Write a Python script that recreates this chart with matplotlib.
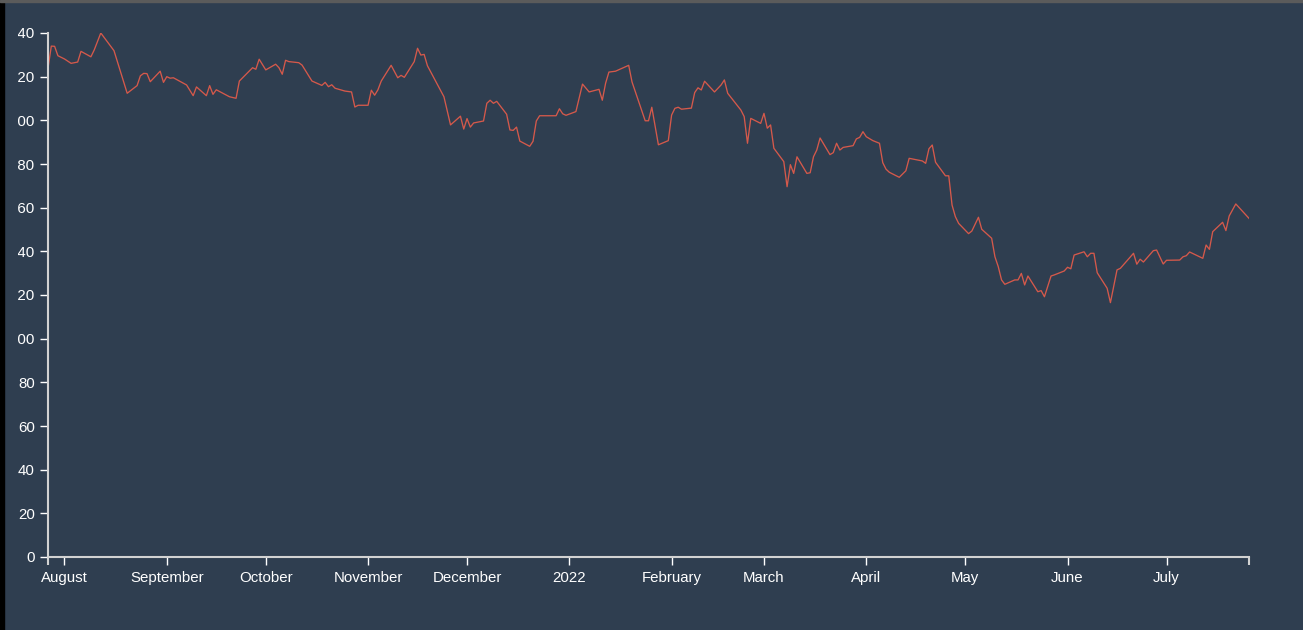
import matplotlib
matplotlib.use('Agg')
import matplotlib.pyplot as plt
import matplotlib.dates as mdates
from matplotlib.patches import Rectangle
from matplotlib.transforms import Bbox
import pandas as pd

# price series (date, close)
dates = [
    '2021-07-27', '2021-07-28', '2021-07-29', '2021-07-30', '2021-08-01', '2021-08-03',
    '2021-08-05', '2021-08-06', '2021-08-09', '2021-08-10', '2021-08-12', '2021-08-16',
    '2021-08-20', '2021-08-23', '2021-08-24', '2021-08-25', '2021-08-26', '2021-08-27',
    '2021-08-30', '2021-08-31', '2021-09-01', '2021-09-02', '2021-09-03', '2021-09-07',
    '2021-09-09', '2021-09-10', '2021-09-13', '2021-09-14', '2021-09-15', '2021-09-16',
    '2021-09-20', '2021-09-22', '2021-09-23', '2021-09-27', '2021-09-28', '2021-09-29',
    '2021-10-01', '2021-10-04', '2021-10-05', '2021-10-06', '2021-10-07', '2021-10-08',
    '2021-10-11', '2021-10-12', '2021-10-15', '2021-10-18', '2021-10-19', '2021-10-20',
    '2021-10-21', '2021-10-22', '2021-10-25', '2021-10-27', '2021-10-28', '2021-10-29',
    '2021-11-01', '2021-11-02', '2021-11-03', '2021-11-04', '2021-11-05', '2021-11-08',
    '2021-11-10', '2021-11-11', '2021-11-12', '2021-11-15', '2021-11-16', '2021-11-17',
    '2021-11-18', '2021-11-19', '2021-11-24', '2021-11-26', '2021-11-29', '2021-11-30',
    '2021-12-01', '2021-12-02', '2021-12-03', '2021-12-06', '2021-12-07', '2021-12-08',
    '2021-12-09', '2021-12-10', '2021-12-13', '2021-12-14', '2021-12-15', '2021-12-16',
    '2021-12-17', '2021-12-20', '2021-12-21', '2021-12-22', '2021-12-23', '2021-12-24',
    '2021-12-28', '2021-12-29', '2021-12-30', '2021-12-31', '2022-01-03', '2022-01-05',
    '2022-01-07', '2022-01-10', '2022-01-11', '2022-01-12', '2022-01-13', '2022-01-15',
    '2022-01-19', '2022-01-20', '2022-01-24', '2022-01-25', '2022-01-26', '2022-01-28',
    '2022-01-31', '2022-02-01', '2022-02-02', '2022-02-03', '2022-02-04', '2022-02-07',
    '2022-02-08', '2022-02-09', '2022-02-10', '2022-02-11', '2022-02-14', '2022-02-16',
    '2022-02-17', '2022-02-18', '2022-02-22', '2022-02-23', '2022-02-24', '2022-02-25',
    '2022-02-28', '2022-03-01', '2022-03-02', '2022-03-03', '2022-03-04', '2022-03-07',
    '2022-03-08', '2022-03-09', '2022-03-10', '2022-03-11', '2022-03-14', '2022-03-15',
    '2022-03-16', '2022-03-17', '2022-03-18', '2022-03-21', '2022-03-22', '2022-03-23',
    '2022-03-24', '2022-03-25', '2022-03-28', '2022-03-29', '2022-03-30', '2022-03-31',
    '2022-04-01', '2022-04-03', '2022-04-05', '2022-04-06', '2022-04-07', '2022-04-08',
    '2022-04-11', '2022-04-13', '2022-04-14', '2022-04-18', '2022-04-19', '2022-04-20',
    '2022-04-21', '2022-04-22', '2022-04-25', '2022-04-26', '2022-04-27', '2022-04-28',
    '2022-04-29', '2022-05-02', '2022-05-03', '2022-05-05', '2022-05-06', '2022-05-09',
    '2022-05-10', '2022-05-11', '2022-05-12', '2022-05-13', '2022-05-16', '2022-05-17',
    '2022-05-18', '2022-05-19', '2022-05-20', '2022-05-23', '2022-05-24', '2022-05-25',
    '2022-05-27', '2022-05-28', '2022-05-31', '2022-06-01', '2022-06-02', '2022-06-03',
    '2022-06-06', '2022-06-07', '2022-06-08', '2022-06-09', '2022-06-10', '2022-06-13',
    '2022-06-14', '2022-06-16', '2022-06-17', '2022-06-21', '2022-06-22', '2022-06-23',
    '2022-06-24', '2022-06-27', '2022-06-28', '2022-06-30', '2022-07-01', '2022-07-05',
    '2022-07-06', '2022-07-07', '2022-07-08', '2022-07-12', '2022-07-13', '2022-07-14',
    '2022-07-15', '2022-07-18', '2022-07-19', '2022-07-20', '2022-07-22', '2022-07-26',
]
prices = [
    223.8, 234.0, 233.9, 229.6, 228.1, 226.1,
    226.7, 231.6, 229.1, 232.2, 240.0, 231.9,
    212.4, 215.9, 220.4, 221.5, 221.4, 217.7,
    222.5, 217.4, 220.0, 219.3, 219.5, 216.2,
    211.3, 215.3, 211.3, 215.9, 211.9, 214.0,
    210.8, 210.1, 218.0, 224.1, 223.4, 228.0,
    223.1, 225.7, 224.1, 221.1, 227.5, 226.9,
    226.4, 225.3, 218.0, 216.0, 217.4, 215.4,
    216.3, 214.7, 213.4, 213.0, 206.1, 206.9,
    206.9, 213.8, 211.5, 214.0, 218.0, 225.2,
    219.5, 220.6, 219.7, 226.9, 233.0, 229.9,
    230.2, 225.0, 210.8, 197.9, 201.9, 196.0,
    200.8, 196.9, 198.8, 199.7, 207.8, 209.2,
    207.8, 208.7, 202.8, 195.6, 195.4, 196.9,
    190.5, 188.1, 190.4, 199.7, 202.1, 202.1,
    202.1, 205.3, 203.0, 202.3, 204.0, 216.6,
    213.0, 214.2, 209.2, 217.0, 222.1, 222.5,
    225.2, 217.6, 199.8, 199.8, 206.0, 188.8,
    190.7, 202.4, 205.5, 206.0, 205.1, 205.6,
    212.7, 214.9, 213.9, 217.9, 213.0, 216.2,
    218.5, 212.4, 204.7, 201.7, 189.5, 200.9,
    198.6, 203.2, 196.4, 197.9, 187.2, 181.1,
    169.6, 179.7, 175.7, 183.3, 175.7, 176.0,
    183.3, 186.4, 191.9, 184.3, 185.2, 189.5,
    186.4, 187.6, 188.4, 191.5, 192.2, 194.8,
    192.5, 190.7, 189.5, 180.6, 177.6, 176.2,
    173.9, 176.9, 182.6, 181.4, 180.3, 187.0,
    188.7, 180.8, 174.6, 174.6, 161.2, 155.9,
    152.8, 148.1, 149.3, 155.6, 150.1, 146.0,
    137.5, 133.0, 126.9, 124.9, 126.9, 126.9,
    129.9, 124.6, 128.7, 121.5, 122.0, 119.2,
    128.7, 129.2, 131.0, 132.7, 132.0, 138.3,
    139.8, 137.5, 139.1, 139.1, 130.2, 123.1,
    116.5, 131.5, 132.2, 139.1, 134.1, 136.4,
    135.1, 140.3, 140.6, 134.2, 135.9, 136.0,
    137.5, 138.0, 139.7, 136.8, 142.9, 140.9,
    149.0, 153.3, 149.5, 156.2, 161.7, 155.1,
]
y_ticks = list(range(0, 241, 20))

bg = '#2f3e50'
line_color = '#d5594b'
axis_color = '#d2d2d2'

plt.rcParams['font.family'] = ['Liberation Sans', 'DejaVu Sans']

df = pd.DataFrame({'date': pd.to_datetime(dates), 'close': prices})

fig = plt.figure(figsize=(13.03, 6.30), dpi=100, facecolor=bg)
ax = fig.add_axes([48 / 1303, 73 / 630, 1201 / 1303, 524 / 630])
ax.set_facecolor(bg)

ax.plot(df['date'], df['close'], color=line_color, linewidth=0.95)

ax.set_xlim(df['date'].iloc[0], df['date'].iloc[-1])
ax.set_ylim(0, 240)

# spines like a d3 axis
for side in ['top', 'right']:
    ax.spines[side].set_visible(False)
for side in ['left', 'bottom']:
    ax.spines[side].set_color(axis_color)
    ax.spines[side].set_linewidth(1.5)

ax.set_yticks(y_ticks)
ax.xaxis.set_major_locator(mdates.MonthLocator())
ax.xaxis.set_major_formatter(
    plt.FuncFormatter(lambda v, pos: mdates.num2date(v).strftime('%Y')
                      if mdates.num2date(v).month == 1
                      else mdates.num2date(v).strftime('%B'))
)
# outer ticks at both ends of the x domain
ax.set_xticks([mdates.date2num(df['date'].iloc[0]), mdates.date2num(df['date'].iloc[-1])], minor=True)

ax.tick_params(axis='both', which='major', colors='white', labelcolor='white',
               labelsize=10.8, length=6, width=1.0)
ax.tick_params(axis='y', which='major', pad=3.5)
ax.tick_params(axis='x', which='major', pad=4)
ax.tick_params(axis='x', which='minor', colors=axis_color, length=6, width=1.5)

# page chrome: dark strip at left, grey bar at top
fig.patches.append(Rectangle((0, 0), 4 / 1303, 1, transform=fig.transFigure,
                             color='black', zorder=0))
fig.patches.append(Rectangle((0, 1 - 2 / 630), 1, 2 / 630, transform=fig.transFigure,
                             color='#5b5b5b', zorder=0))

# the hundreds digit of the y labels is cut off by the container:
# clip where a two digit label begins
fig.canvas.draw()
renderer = fig.canvas.get_renderer()
ticks = ax.yaxis.get_major_ticks()
two_digit = ticks[1].label1.get_window_extent(renderer)   # the "20" label
clip = Bbox.from_extents(two_digit.x0 - 0.3, 0, 1303, 630)
for t in ticks:
    t.label1.set_clip_on(True)
    t.label1.set_clip_box(clip)

fig.savefig('out.png', dpi=100, facecolor=bg)
